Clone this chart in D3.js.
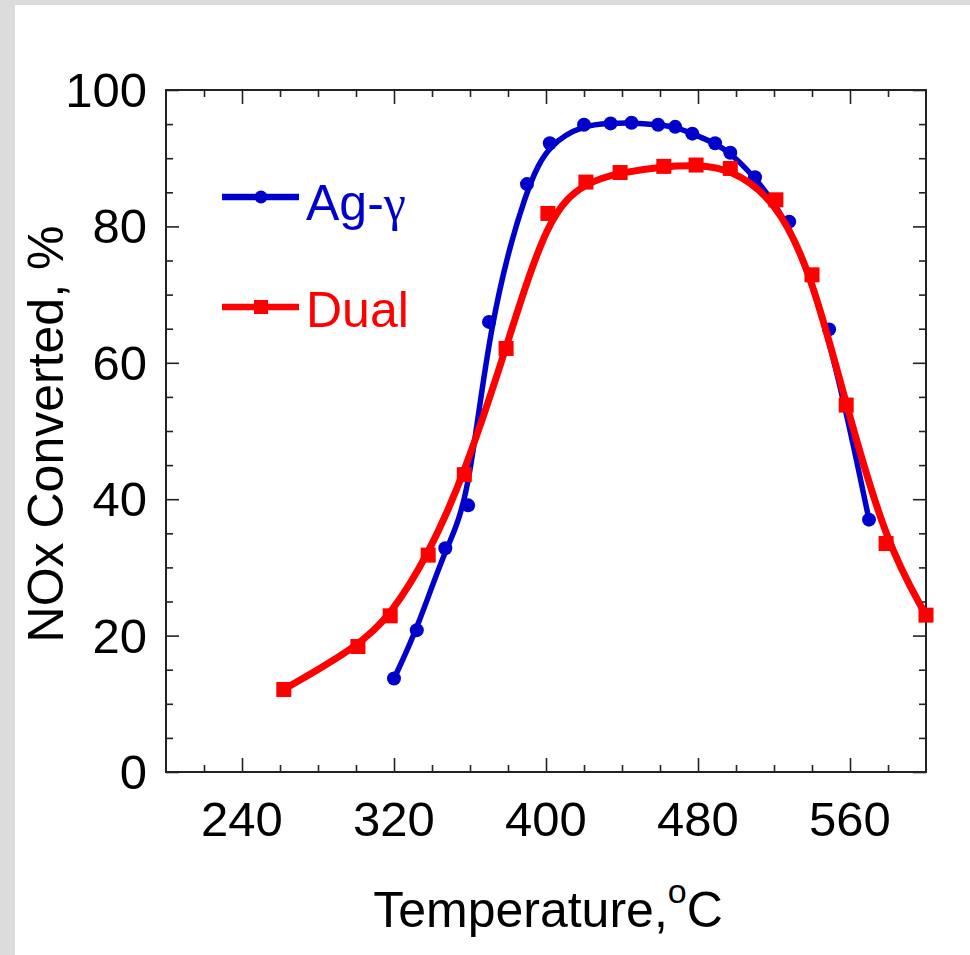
<!DOCTYPE html>
<html>
<head>
<meta charset="utf-8">
<script src="https://cdn.jsdelivr.net/npm/d3@7"></script>
<style>
  html, body { margin: 0; padding: 0; background: #dcdcdc; }
  svg { display: block; }
</style>
</head>
<body>
<div id="chart"></div>
<script>
// values
const agTemp = [320, 332, 347, 359, 370, 390, 402, 420, 434, 445, 459, 468, 477, 489, 497, 510, 528, 549, 570];
const agConv = [13.7, 20.8, 32.8, 39.1, 66.0, 86.2, 92.2, 94.9, 95.1, 95.2, 94.9, 94.6, 93.6, 92.2, 90.8, 87.2, 80.7, 64.9, 37.0];
const dualTemp = [262, 301, 318, 338, 357, 379, 401, 421, 439, 462, 479, 497, 521, 540, 558, 579, 600];
const dualConv = [12.1, 18.4, 22.9, 31.8, 43.6, 62.1, 81.9, 86.5, 87.9, 88.8, 89.0, 88.5, 83.9, 72.9, 53.8, 33.5, 23.0];
const xTicks = [240, 320, 400, 480, 560];
const yTicks = [0, 20, 40, 60, 80, 100];

const W = 970, H = 955;
const PLOT = { left: 166, right: 926, top: 90, bottom: 772 };
const BLUE = "#0000cc", RED = "#ff0000";
const FONT = "Arial, 'Liberation Sans', Helvetica, sans-serif";

const svg = d3.select("#chart").append("svg")
  .attr("width", W)
  .attr("height", H);

// grey frame on the left/top, white page
svg.append("rect").attr("width", W).attr("height", H).attr("fill", "#dcdcdc");
svg.append("rect").attr("x", 15).attr("y", 5).attr("width", W - 15).attr("height", H - 5).attr("fill", "#fff");

const x = d3.scaleLinear().domain([200, 600]).range([PLOT.left, PLOT.right]);
const y = d3.scaleLinear().domain([0, 100]).range([PLOT.bottom, PLOT.top]);

const minorX = d3.range(220, 600, 20).filter(v => !xTicks.includes(v));
const minorY = d3.range(0, 101, 5).filter(v => v % 20 !== 0);

const axisColor = "#222";

// axes with inward ticks on all four sides
const addAxis = (axis, tx, ty) => {
  const g = svg.append("g").attr("transform", `translate(${tx},${ty})`).call(axis);
  g.select(".domain").remove();
  g.selectAll(".tick line").attr("stroke", axisColor).attr("stroke-width", 1.6);
  g.selectAll(".tick text").remove();
  return g;
};

// bottom
addAxis(d3.axisBottom(x).tickValues(xTicks).tickSizeInner(-14).tickSizeOuter(0), 0, PLOT.bottom);
addAxis(d3.axisBottom(x).tickValues(minorX).tickSizeInner(-7).tickSizeOuter(0), 0, PLOT.bottom);
// top
addAxis(d3.axisTop(x).tickValues(xTicks).tickSizeInner(-14).tickSizeOuter(0), 0, PLOT.top);
addAxis(d3.axisTop(x).tickValues(minorX).tickSizeInner(-7).tickSizeOuter(0), 0, PLOT.top);
// left
addAxis(d3.axisLeft(y).tickValues(yTicks).tickSizeInner(-13).tickSizeOuter(0), PLOT.left, 0);
addAxis(d3.axisLeft(y).tickValues(minorY).tickSizeInner(-7).tickSizeOuter(0), PLOT.left, 0);
// right
addAxis(d3.axisRight(y).tickValues(yTicks).tickSizeInner(-13).tickSizeOuter(0), PLOT.right, 0);
addAxis(d3.axisRight(y).tickValues(minorY).tickSizeInner(-7).tickSizeOuter(0), PLOT.right, 0);

// frame
svg.append("rect")
  .attr("x", PLOT.left).attr("y", PLOT.top)
  .attr("width", PLOT.right - PLOT.left).attr("height", PLOT.bottom - PLOT.top)
  .attr("fill", "none").attr("stroke", axisColor).attr("stroke-width", 2);

// tick labels
svg.append("g").selectAll("text").data(xTicks).join("text")
  .attr("x", d => x(d)).attr("y", 836)
  .attr("text-anchor", "middle")
  .attr("font-family", FONT).attr("font-size", 49).attr("fill", "#000")
  .text(d => d);

svg.append("g").selectAll("text").data(yTicks).join("text")
  .attr("x", 147).attr("y", d => y(d) + 17)
  .attr("text-anchor", "end")
  .attr("font-family", FONT).attr("font-size", 49).attr("fill", "#000")
  .text(d => d);

// axis titles
const xTitle = svg.append("text")
  .attr("x", (PLOT.left + PLOT.right) / 2 + 2).attr("y", 927)
  .attr("text-anchor", "middle")
  .attr("font-family", FONT).attr("font-size", 50).attr("fill", "#000");
xTitle.append("tspan").text("Temperature,");
xTitle.append("tspan").attr("font-size", 34).attr("dy", -24).text("o");
xTitle.append("tspan").attr("dy", 24).text("C");

svg.append("text")
  .attr("transform", `translate(63,434) rotate(-90)`)
  .attr("text-anchor", "middle")
  .attr("font-family", FONT).attr("font-size", 50).attr("fill", "#000")
  .text("NOx Converted, %");

// series
const series = [
  { name: "Ag-γ", temp: agTemp, conv: agConv, color: BLUE, width: 5.5, shape: "circle" },
  { name: "Dual", temp: dualTemp, conv: dualConv, color: RED, width: 7, shape: "square" }
];

// smoothed curve, like the original's spline fit
const line = d3.line()
  .x(d => x(d[0]))
  .y(d => y(d[1]))
  .curve(d3.curveBasis);

series.forEach(s => {
  const pts = s.temp.map((t, i) => [t, s.conv[i]]);
  svg.append("path")
    .datum(pts)
    .attr("fill", "none")
    .attr("stroke", s.color)
    .attr("stroke-width", s.width)
    .attr("stroke-linejoin", "round")
    .attr("d", line);

  if (s.shape === "circle") {
    svg.append("g").selectAll("circle").data(pts).join("circle")
      .attr("cx", d => x(d[0])).attr("cy", d => y(d[1]))
      .attr("r", 7).attr("fill", s.color);
  } else {
    svg.append("g").selectAll("rect").data(pts).join("rect")
      .attr("x", d => x(d[0]) - 7.5).attr("y", d => y(d[1]) - 7.5)
      .attr("width", 15).attr("height", 15).attr("fill", s.color);
  }
});

// legend
const legend = svg.append("g");
const legendRows = [
  { s: series[0], ly: 197, ty: 220 },
  { s: series[1], ly: 307, ty: 327 }
];
legendRows.forEach(({ s, ly, ty }) => {
  legend.append("line")
    .attr("x1", 222).attr("x2", 299).attr("y1", ly).attr("y2", ly)
    .attr("stroke", s.color).attr("stroke-width", 6.5);
  if (s.shape === "circle") {
    legend.append("circle").attr("cx", 261).attr("cy", ly).attr("r", 6.5).attr("fill", s.color);
  } else {
    legend.append("rect").attr("x", 254).attr("y", ly - 7).attr("width", 14).attr("height", 14).attr("fill", s.color);
  }
  const t = legend.append("text")
    .attr("x", 306).attr("y", ty)
    .attr("font-family", FONT).attr("font-size", 50).attr("fill", s.color);
  if (s.name === "Ag-γ") {
    t.append("tspan").text("Ag-");
    t.append("tspan").attr("font-family", "'Liberation Serif', 'Times New Roman', serif").attr("font-size", 50).text("γ");
  } else {
    t.text(s.name);
  }
});
</script>
</body>
</html>
